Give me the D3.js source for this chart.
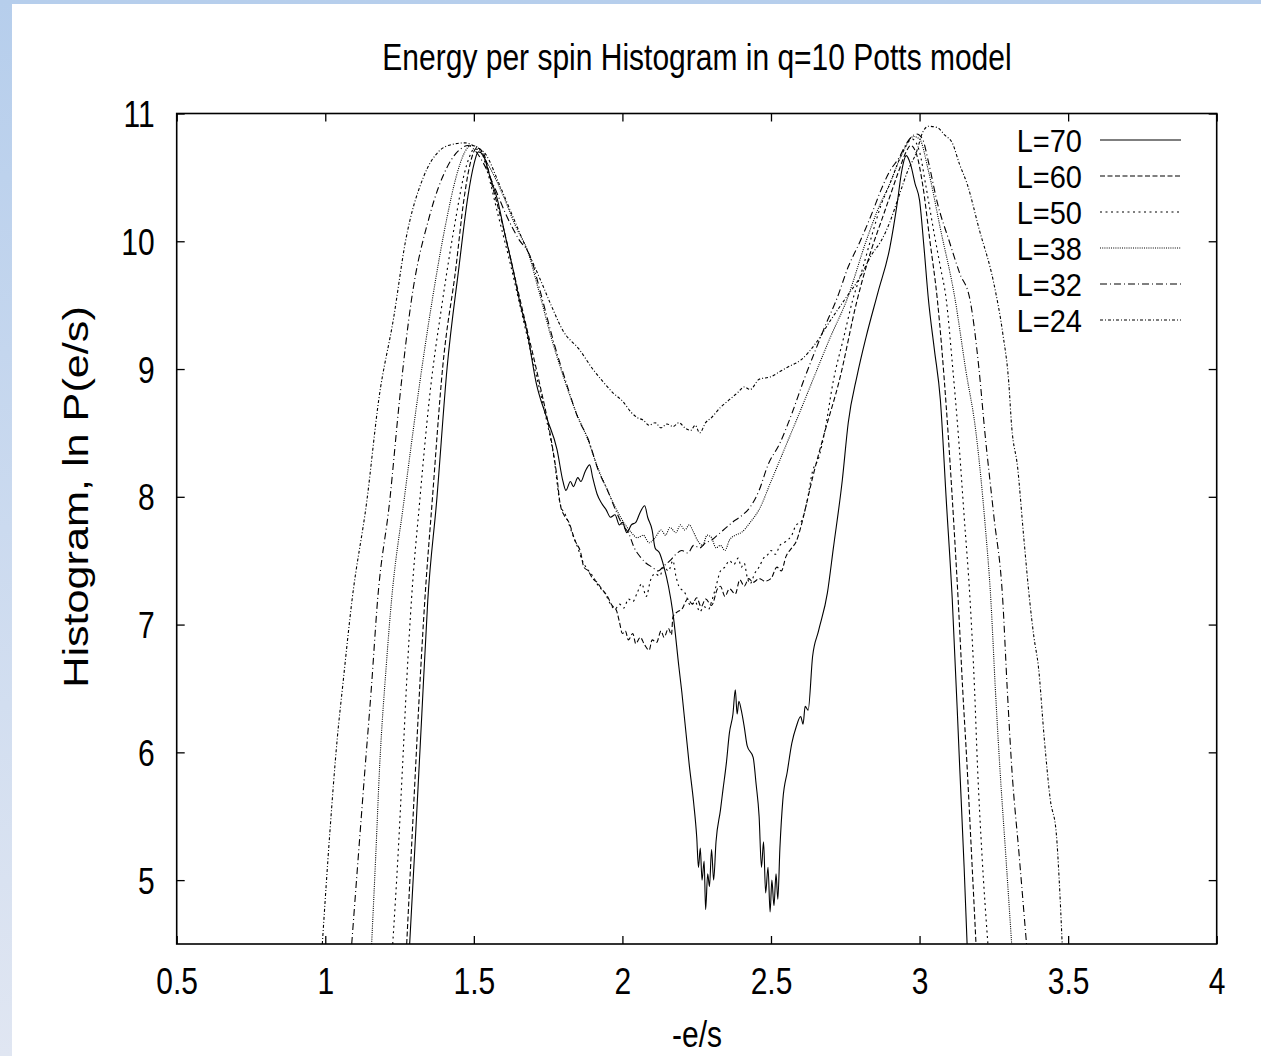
<!DOCTYPE html>
<html>
<head>
<meta charset="utf-8">
<script src="https://cdn.jsdelivr.net/npm/d3@7"></script>
<style>
  html, body { margin: 0; padding: 0; background: #fff; }
  svg { display: block; font-family: "Liberation Sans", Arial, Helvetica, sans-serif; }
</style>
</head>
<body>
<svg id="chart" width="1261" height="1056"></svg>
<script>
// tick values
var xTicks = [0.5, 1, 1.5, 2, 2.5, 3, 3.5, 4];
var yTicks = [5, 6, 7, 8, 9, 10, 11];
var seriesNames = ["L=70", "L=60", "L=50", "L=38", "L=32", "L=24"];

// [-e/s, ln P]
var l70 = [[1.284,4.5],[1.305,5.4],[1.325,6.3],[1.345,7.19],[1.375,7.97],[1.41,9.01],[1.45,9.8],[1.48,10.35],[1.5,10.6],[1.515,10.7],[1.53,10.68],[1.555,10.5],[1.58,10.32],[1.605,10.05],[1.63,9.8],[1.655,9.52],[1.68,9.28],[1.71,8.89],[1.745,8.62],[1.78,8.37],[1.8,8.12],[1.81,8.05],[1.825,8.12],[1.835,8.08],[1.85,8.15],[1.86,8.12],[1.875,8.2],[1.89,8.25],[1.9,8.15],[1.915,8.02],[1.93,7.95],[1.945,7.9],[1.96,7.84],[1.975,7.86],[1.99,7.78],[2.0,7.8],[2.015,7.72],[2.03,7.78],[2.045,7.8],[2.06,7.88],[2.075,7.93],[2.085,7.84],[2.1,7.74],[2.11,7.6],[2.125,7.56],[2.14,7.45],[2.155,7.3],[2.17,7.09],[2.19,6.67],[2.2,6.47],[2.225,5.9],[2.24,5.6],[2.25,5.34],[2.256,5.1],[2.262,5.25],[2.268,5.0],[2.275,5.15],[2.28,4.77],[2.287,5.05],[2.293,4.95],[2.3,5.24],[2.307,5.0],[2.315,5.3],[2.33,5.55],[2.338,5.7],[2.35,5.92],[2.36,6.15],[2.372,6.3],[2.38,6.49],[2.386,6.3],[2.392,6.4],[2.4,6.33],[2.41,6.2],[2.42,6.05],[2.44,5.96],[2.45,5.75],[2.46,5.5],[2.468,5.1],[2.475,5.3],[2.482,4.9],[2.49,5.1],[2.497,4.75],[2.503,5.0],[2.51,4.8],[2.517,5.05],[2.523,4.85],[2.53,5.25],[2.54,5.63],[2.555,5.85],[2.57,6.07],[2.585,6.2],[2.6,6.28],[2.608,6.22],[2.615,6.36],[2.625,6.33],[2.64,6.75],[2.66,6.95],[2.69,7.25],[2.71,7.6],[2.74,8.13],[2.76,8.58],[2.79,8.95],[2.82,9.25],[2.86,9.6],[2.9,9.95],[2.925,10.3],[2.94,10.55],[2.955,10.67],[2.97,10.6],[2.985,10.45],[3.0,10.32],[3.015,9.95],[3.03,9.54],[3.05,9.15],[3.07,8.76],[3.09,7.97],[3.11,7.2],[3.135,5.89],[3.15,5.1],[3.16,4.5]];

var l60 = [[1.274,4.5],[1.3,5.7],[1.32,6.6],[1.335,7.19],[1.36,7.97],[1.395,9.01],[1.44,9.8],[1.465,10.3],[1.485,10.58],[1.51,10.73],[1.53,10.7],[1.56,10.45],[1.6,10.1],[1.64,9.7],[1.68,9.3],[1.72,8.9],[1.76,8.45],[1.78,8.15],[1.79,7.95],[1.805,7.85],[1.82,7.8],[1.84,7.66],[1.86,7.56],[1.87,7.45],[1.885,7.42],[1.9,7.36],[1.915,7.33],[1.93,7.28],[1.95,7.22],[1.965,7.15],[1.98,7.11],[1.99,7.02],[2.0,6.93],[2.01,6.95],[2.02,6.88],[2.035,6.93],[2.045,6.85],[2.06,6.9],[2.075,6.84],[2.09,6.8],[2.1,6.88],[2.115,6.86],[2.13,6.95],[2.14,6.9],[2.155,6.97],[2.165,6.92],[2.17,7.06],[2.185,7.1],[2.2,7.12],[2.22,7.2],[2.235,7.16],[2.25,7.21],[2.265,7.14],[2.28,7.2],[2.3,7.15],[2.32,7.28],[2.33,7.3],[2.345,7.22],[2.36,7.28],[2.38,7.24],[2.395,7.35],[2.41,7.3],[2.425,7.36],[2.44,7.33],[2.46,7.36],[2.48,7.34],[2.5,7.36],[2.52,7.45],[2.535,7.42],[2.55,7.53],[2.57,7.6],[2.585,7.65],[2.6,7.76],[2.62,7.95],[2.64,8.15],[2.68,8.5],[2.73,8.91],[2.79,9.54],[2.84,9.95],[2.87,10.15],[2.9,10.35],[2.93,10.55],[2.955,10.7],[2.97,10.75],[2.99,10.68],[3.01,10.45],[3.035,10.0],[3.06,9.54],[3.09,8.7],[3.115,7.8],[3.13,7.19],[3.145,6.5],[3.16,5.89],[3.175,5.2],[3.19,4.5]];

var l50 = [[1.227,4.5],[1.245,5.2],[1.26,5.89],[1.275,6.6],[1.29,7.19],[1.318,7.97],[1.35,8.76],[1.395,9.54],[1.44,10.19],[1.465,10.5],[1.485,10.66],[1.5,10.72],[1.52,10.72],[1.545,10.55],[1.58,10.22],[1.62,9.85],[1.66,9.45],[1.7,9.05],[1.74,8.65],[1.77,8.3],[1.79,7.95],[1.81,7.85],[1.83,7.72],[1.85,7.6],[1.865,7.5],[1.88,7.44],[1.9,7.38],[1.92,7.3],[1.94,7.25],[1.96,7.16],[1.975,7.12],[1.99,7.16],[2.005,7.13],[2.02,7.2],[2.035,7.18],[2.05,7.25],[2.065,7.32],[2.08,7.22],[2.095,7.35],[2.11,7.4],[2.125,7.38],[2.14,7.45],[2.155,7.42],[2.17,7.5],[2.18,7.38],[2.19,7.3],[2.21,7.25],[2.23,7.15],[2.245,7.18],[2.26,7.1],[2.275,7.14],[2.29,7.12],[2.3,7.18],[2.315,7.3],[2.33,7.42],[2.345,7.45],[2.36,7.5],[2.375,7.47],[2.39,7.52],[2.4,7.45],[2.41,7.48],[2.42,7.37],[2.43,7.32],[2.445,7.4],[2.46,7.45],[2.475,7.52],[2.49,7.55],[2.5,7.58],[2.515,7.55],[2.53,7.62],[2.55,7.65],[2.57,7.7],[2.585,7.78],[2.6,7.8],[2.62,7.95],[2.64,8.2],[2.66,8.3],[2.68,8.5],[2.71,8.91],[2.745,9.25],[2.775,9.54],[2.81,9.8],[2.84,10.05],[2.87,10.28],[2.9,10.45],[2.94,10.68],[2.975,10.8],[3.0,10.7],[3.02,10.45],[3.05,10.05],[3.07,9.8],[3.09,9.54],[3.11,9.05],[3.13,8.5],[3.15,7.85],[3.17,7.19],[3.185,6.5],[3.195,5.89],[3.21,5.2],[3.23,4.5]];

var l38 = [[1.156,4.5],[1.17,5.2],[1.183,5.89],[1.205,6.67],[1.223,7.19],[1.265,7.97],[1.31,8.76],[1.36,9.54],[1.41,10.19],[1.44,10.5],[1.47,10.7],[1.49,10.75],[1.51,10.74],[1.53,10.67],[1.56,10.55],[1.6,10.35],[1.64,10.12],[1.68,9.93],[1.72,9.6],[1.76,9.25],[1.8,8.95],[1.846,8.65],[1.88,8.47],[1.92,8.21],[1.95,8.05],[1.98,7.9],[2.01,7.78],[2.03,7.72],[2.05,7.68],[2.07,7.7],[2.09,7.64],[2.11,7.68],[2.13,7.74],[2.145,7.7],[2.16,7.76],[2.18,7.72],[2.195,7.78],[2.21,7.74],[2.225,7.78],[2.24,7.72],[2.255,7.65],[2.27,7.62],[2.285,7.7],[2.3,7.68],[2.315,7.6],[2.33,7.62],[2.345,7.58],[2.36,7.66],[2.38,7.7],[2.4,7.72],[2.43,7.8],[2.46,7.9],[2.5,8.12],[2.55,8.4],[2.6,8.68],[2.64,8.91],[2.7,9.25],[2.755,9.54],[2.82,10.0],[2.86,10.25],[2.9,10.45],[2.94,10.68],[2.98,10.82],[3.0,10.8],[3.03,10.55],[3.07,10.1],[3.12,9.54],[3.155,9.0],[3.19,8.5],[3.22,7.8],[3.24,7.19],[3.255,6.5],[3.27,5.89],[3.29,5.2],[3.31,4.5]];

var l32 = [[1.089,4.5],[1.11,5.15],[1.133,5.85],[1.155,6.5],[1.176,7.19],[1.217,7.97],[1.25,8.76],[1.29,9.54],[1.35,10.19],[1.41,10.58],[1.46,10.73],[1.48,10.75],[1.5,10.72],[1.53,10.62],[1.57,10.42],[1.61,10.2],[1.65,10.02],[1.69,9.88],[1.73,9.55],[1.77,9.2],[1.81,8.9],[1.85,8.62],[1.885,8.45],[1.92,8.2],[1.95,8.05],[1.98,7.88],[2.0,7.78],[2.02,7.72],[2.04,7.6],[2.06,7.53],[2.08,7.48],[2.1,7.45],[2.12,7.42],[2.14,7.46],[2.16,7.5],[2.18,7.55],[2.2,7.58],[2.22,7.56],[2.24,7.62],[2.26,7.6],[2.28,7.64],[2.3,7.66],[2.32,7.7],[2.34,7.74],[2.37,7.8],[2.4,7.85],[2.43,7.92],[2.46,8.05],[2.49,8.25],[2.53,8.42],[2.57,8.65],[2.61,8.91],[2.65,9.15],[2.69,9.38],[2.72,9.54],[2.76,9.8],[2.8,10.0],[2.84,10.22],[2.87,10.4],[2.9,10.55],[2.93,10.65],[2.96,10.78],[2.99,10.84],[3.01,10.8],[3.03,10.62],[3.06,10.3],[3.1,10.0],[3.135,9.75],[3.17,9.54],[3.2,9.0],[3.22,8.5],[3.25,7.85],[3.28,7.19],[3.295,6.5],[3.31,5.89],[3.335,5.2],[3.36,4.5]];

var l24 = [[0.99,4.5],[1.015,5.36],[1.04,6.1],[1.06,6.55],[1.09,7.19],[1.14,7.97],[1.18,8.76],[1.23,9.4],[1.27,10.0],[1.33,10.5],[1.385,10.71],[1.43,10.76],[1.47,10.77],[1.505,10.74],[1.54,10.68],[1.585,10.45],[1.63,10.2],[1.67,9.98],[1.72,9.72],[1.76,9.5],[1.8,9.3],[1.856,9.15],[1.9,9.0],[1.935,8.9],[1.97,8.81],[2.0,8.75],[2.03,8.66],[2.05,8.62],[2.07,8.6],[2.09,8.56],[2.11,8.58],[2.13,8.54],[2.15,8.57],[2.17,8.55],[2.19,8.58],[2.21,8.54],[2.23,8.52],[2.245,8.56],[2.26,8.5],[2.28,8.58],[2.3,8.62],[2.33,8.7],[2.36,8.76],[2.39,8.82],[2.41,8.86],[2.43,8.84],[2.46,8.92],[2.5,8.94],[2.53,8.98],[2.56,9.02],[2.6,9.07],[2.65,9.2],[2.7,9.38],[2.75,9.55],[2.8,9.72],[2.84,9.9],[2.87,10.0],[2.9,10.15],[2.93,10.35],[2.96,10.55],[2.99,10.7],[3.01,10.85],[3.03,10.9],[3.06,10.89],[3.085,10.83],[3.11,10.77],[3.135,10.6],[3.16,10.45],[3.2,10.1],[3.25,9.67],[3.28,9.28],[3.3,8.9],[3.31,8.55],[3.33,8.23],[3.35,7.7],[3.37,7.2],[3.385,6.9],[3.4,6.67],[3.42,6.1],[3.44,5.63],[3.46,5.37],[3.47,5.0],[3.48,4.5]];

var seriesData = [l70, l60, l50, l38, l32, l24];

// line styles, one per series
var dashes = [null, "5,2.5", "2,3.5", "1,1.2", "7,3,1,3", "3,2,1,2"];

var svg = d3.select("#chart");
var W = 1261, H = 1056;

// page background: blue band on the left / top edge like the slide it came from
var defs = svg.append("defs");
var grad = defs.append("linearGradient").attr("id", "bg").attr("x1", 0).attr("y1", 0).attr("x2", 0).attr("y2", 1);
grad.append("stop").attr("offset", "0%").attr("stop-color", "#b6ceec");
grad.append("stop").attr("offset", "100%").attr("stop-color", "#e0e6f2");
svg.append("rect").attr("width", W).attr("height", H).attr("fill", "url(#bg)");
svg.append("rect").attr("x", 12).attr("y", 4).attr("width", W - 12).attr("height", H - 4).attr("fill", "#fff");

var x = d3.scaleLinear().domain([0.5, 4]).range([176.7, 1216.7]);
var y = d3.scaleLinear().domain([4.5, 11]).range([944, 113.5]);

defs.append("clipPath").attr("id", "plotClip")
  .append("rect")
  .attr("x", x.range()[0]).attr("y", y.range()[1])
  .attr("width", x.range()[1] - x.range()[0])
  .attr("height", y.range()[0] - y.range()[1]);

// the original picture is stretched vertically, so every text is too
var FS = 30, STRETCH = 1.2;

function styleLabels(g, dx, dy, anchor) {
  g.selectAll(".tick text")
    .attr("x", null).attr("y", null).attr("dy", null)
    .attr("font-size", FS)
    .attr("font-family", "Liberation Sans, Arial, sans-serif")
    .attr("fill", "#000")
    .attr("text-anchor", anchor)
    .attr("transform", `translate(${dx},${dy}) scale(1,${STRETCH})`);
}

function tickStyle(g) {
  g.select(".domain").remove();
  g.selectAll(".tick line").attr("stroke", "#000").attr("stroke-width", 1.3);
}

svg.append("g")
  .attr("transform", `translate(0,${y.range()[0]})`)
  .call(d3.axisBottom(x).tickValues(xTicks).tickFormat(d => String(d)).tickSize(-8).tickSizeOuter(0))
  .call(tickStyle)
  .call(g => styleLabels(g, 0, 50, "middle"));

svg.append("g")
  .attr("transform", `translate(0,${y.range()[1]})`)
  .call(d3.axisTop(x).tickValues(xTicks).tickFormat("").tickSize(-8).tickSizeOuter(0))
  .call(tickStyle);

svg.append("g")
  .attr("transform", `translate(${x.range()[0]},0)`)
  .call(d3.axisLeft(y).tickValues(yTicks).tickFormat(d => String(d)).tickSize(-8).tickSizeOuter(0))
  .call(tickStyle)
  .call(g => styleLabels(g, -22, 13, "end"));

svg.append("g")
  .attr("transform", `translate(${x.range()[1]},0)`)
  .call(d3.axisRight(y).tickValues(yTicks).tickFormat("").tickSize(-8).tickSizeOuter(0))
  .call(tickStyle);

// frame
svg.append("rect")
  .attr("x", x.range()[0]).attr("y", y.range()[1])
  .attr("width", x.range()[1] - x.range()[0])
  .attr("height", y.range()[0] - y.range()[1])
  .attr("fill", "none").attr("stroke", "#000").attr("stroke-width", 1.6);

// curves
var line = d3.line().x(d => x(d[0])).y(d => y(d[1])).curve(d3.curveMonotoneX);
var plot = svg.append("g").attr("clip-path", "url(#plotClip)");
plot.selectAll("path.series").data(seriesData).join("path")
  .attr("class", "series")
  .attr("d", line)
  .attr("fill", "none")
  .attr("stroke", "#000")
  .attr("stroke-width", 1.1)
  .attr("stroke-dasharray", (d, i) => dashes[i]);

// legend (a touch smaller so the rows do not collide)
var legend = svg.append("g");
seriesNames.forEach((name, i) => {
  var cy = 140 + i * 36;
  legend.append("text")
    .attr("text-anchor", "end")
    .attr("font-size", 29)
    .attr("transform", `translate(1082,${cy + 12}) scale(1,1.1)`)
    .text(name);
  legend.append("line")
    .attr("x1", 1100).attr("x2", 1181)
    .attr("y1", cy).attr("y2", cy)
    .attr("stroke", "#000").attr("stroke-width", 1.1)
    .attr("stroke-dasharray", dashes[i]);
});

// title and axis labels
svg.append("text")
  .attr("text-anchor", "middle").attr("font-size", FS)
  .attr("transform", `translate(697,70) scale(1,${STRETCH})`)
  .text("Energy per spin Histogram in q=10 Potts model");

svg.append("text")
  .attr("text-anchor", "middle").attr("font-size", FS)
  .attr("transform", `translate(697,1047) scale(1,${STRETCH})`)
  .text("-e/s");

svg.append("text")
  .attr("text-anchor", "middle").attr("font-size", 36)
  .attr("transform", `translate(88,497) scale(1,${STRETCH}) rotate(-90)`)
  .text("Histogram, ln P(e/s)");
</script>
</body>
</html>
